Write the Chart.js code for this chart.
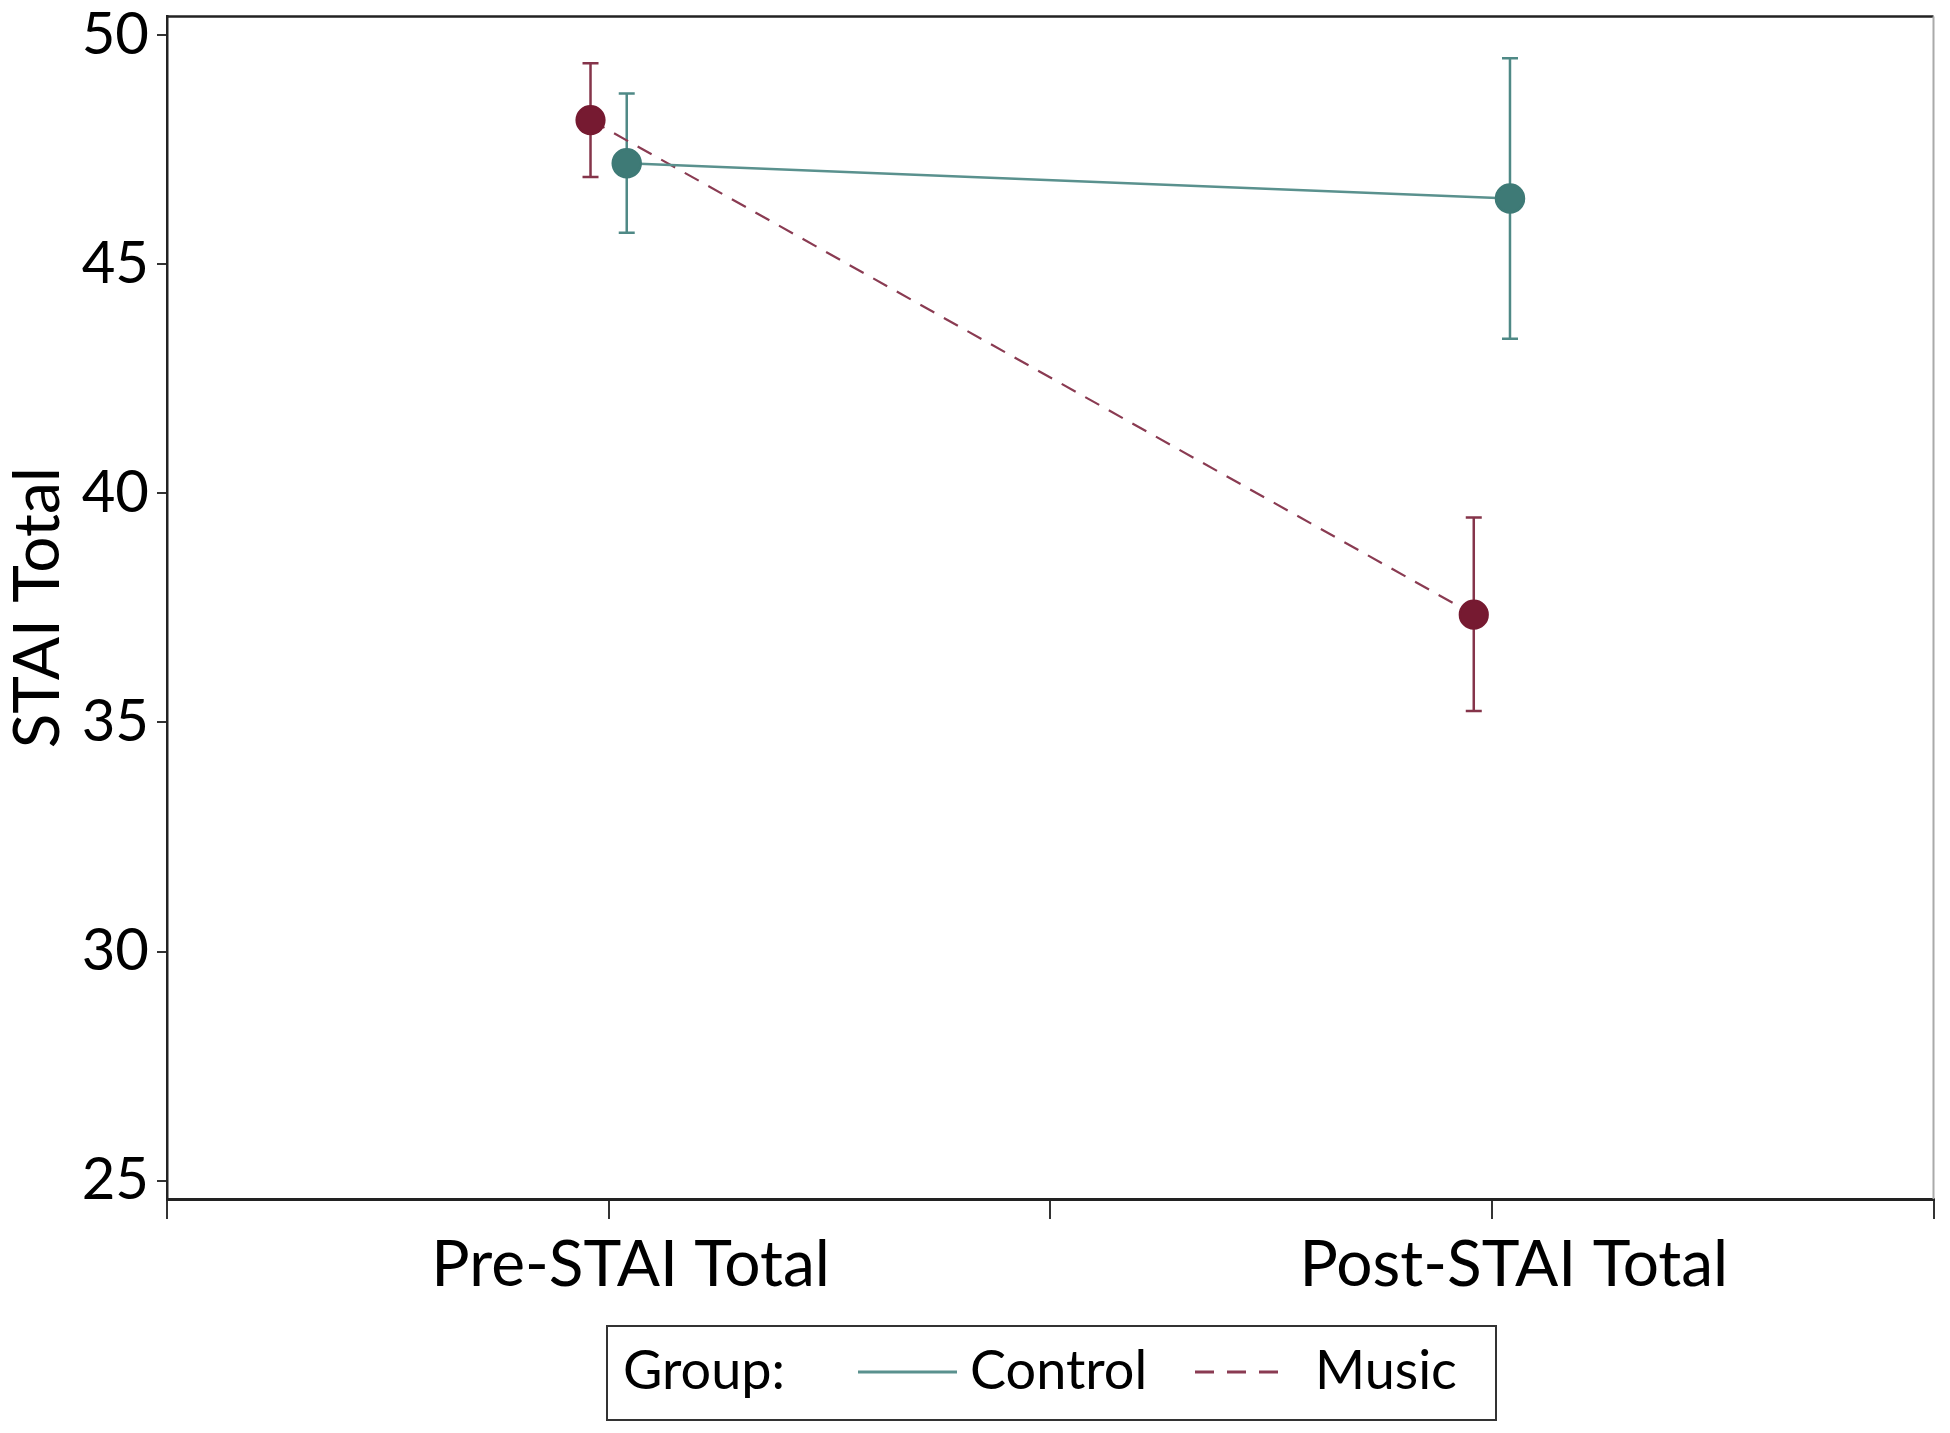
<!DOCTYPE html>
<html>
<head>
<meta charset="utf-8">
<script src="https://cdn.jsdelivr.net/npm/chart.js@4/dist/chart.umd.min.js"></script>
<style>
html,body{margin:0;padding:0;background:#fff;}
#wrap{width:1950px;height:1433px;position:relative;}
</style>
</head>
<body>
<div id="wrap"><canvas id="c"></canvas></div>
<script>
// ---- data ----
const categories = ['Pre-STAI Total', 'Post-STAI Total'];
const groups = ['Control', 'Music'];
const controlMean  = [47.20, 46.43];
const controlLower = [45.68, 43.37];
const controlUpper = [48.72, 49.49];
const musicMean    = [48.14, 37.35];
const musicLower   = [46.90, 35.25];
const musicUpper   = [49.38, 39.47];
const yTickValues  = [25, 30, 35, 40, 45, 50];
const xTickValues  = [0, 1, 2, 3, 4];

const FONT = 'Lato, "Open Sans", sans-serif';
const catPos = i => 2 * i + 1;          // category centre on linear x axis
const dodge = 0.041;

function pts(means, off) {
  return means.map((v, i) => ({ x: catPos(i) + off, y: v }));
}

const errorBars = {
  id: 'errorBars',
  beforeDatasetsDraw(chart) {
    const ctx = chart.ctx, ys = chart.scales.y;
    chart.data.datasets.forEach((ds, di) => {
      const meta = chart.getDatasetMeta(di);
      ctx.save();
      ctx.strokeStyle = ds.errColor;
      ctx.lineWidth = 2.5;
      meta.data.forEach((el, j) => {
        const x = el.x;
        const t = ys.getPixelForValue(ds.errHigh[j]);
        const b = ys.getPixelForValue(ds.errLow[j]);
        ctx.beginPath();
        ctx.moveTo(x, t); ctx.lineTo(x, b);
        ctx.moveTo(x - 8, t); ctx.lineTo(x + 8, t);
        ctx.moveTo(x - 8, b); ctx.lineTo(x + 8, b);
        ctx.stroke();
      });
      ctx.restore();
    });
  }
};

const frameAndLegend = {
  id: 'frameAndLegend',
  afterDraw(chart) {
    const ctx = chart.ctx, a = chart.chartArea;
    ctx.save();
    // top and right frame
    ctx.strokeStyle = '#222';
    ctx.lineWidth = 2.5;
    ctx.beginPath(); ctx.moveTo(a.left, a.top); ctx.lineTo(a.right, a.top); ctx.stroke();
    ctx.strokeStyle = '#aaa';
    ctx.lineWidth = 2;
    ctx.beginPath(); ctx.moveTo(a.right, a.top); ctx.lineTo(a.right, a.bottom); ctx.stroke();

    // legend box
    const bx = 607, by = 1326, bw = 889, bh = 94;
    ctx.strokeStyle = '#333';
    ctx.lineWidth = 2;
    ctx.strokeRect(bx, by, bw, bh);
    ctx.fillStyle = '#000';
    ctx.font = '54px ' + FONT;
    ctx.textBaseline = 'middle';
    ctx.textAlign = 'left';
    const cy = 1372;
    ctx.fillText('Group:', 623, cy);
    const ds = chart.data.datasets;
    const items = [
      { d: ds[0], x0: 858, x1: 957, tx: 970 },
      { d: ds[1], x0: 1195, x1: 1280, tx: 1315 }
    ];
    items.forEach(it => {
      ctx.strokeStyle = it.d.borderColor;
      ctx.lineWidth = 3;
      ctx.setLineDash(it.d.borderDash && it.d.borderDash.length ? [19, 13] : []);
      ctx.beginPath(); ctx.moveTo(it.x0, cy); ctx.lineTo(it.x1, cy); ctx.stroke();
      ctx.setLineDash([]);
      ctx.fillStyle = '#000';
      ctx.fillText(it.d.label, it.tx, cy);
    });
    ctx.restore();
  }
};

new Chart(document.getElementById('c'), {
  type: 'line',
  data: {
    datasets: [
      {
        label: groups[0],
        data: pts(controlMean, dodge),
        errLow: controlLower, errHigh: controlUpper,
        errColor: '#4f8986',
        borderColor: '#5a918e',
        borderWidth: 2.5,
        pointBackgroundColor: '#3e7a76',
        pointBorderColor: '#3e7a76',
        pointRadius: 14,
        pointHoverRadius: 14,
        tension: 0
      },
      {
        label: groups[1],
        data: pts(musicMean, -dodge),
        errLow: musicLower, errHigh: musicUpper,
        errColor: '#85344a',
        borderColor: '#8a3b52',
        borderWidth: 2.2,
        borderDash: [16, 11],
        pointBackgroundColor: '#761a31',
        pointBorderColor: '#761a31',
        pointRadius: 14,
        pointHoverRadius: 14,
        tension: 0
      }
    ]
  },
  options: {
    responsive: true,
    maintainAspectRatio: false,
    animation: false,
    events: [],
    layout: { padding: { left: 0, right: 6, top: 9, bottom: 0 } },
    plugins: { legend: { display: false }, tooltip: { enabled: false } },
    scales: {
      x: {
        type: 'linear',
        min: 0, max: 4,
        afterBuildTicks: s => { s.ticks = xTickValues.map(v => ({ value: v })); },
        afterFit: s => { s.height = 234; s.paddingLeft = 0; s.paddingRight = 0; },
        grid: { drawOnChartArea: false, drawTicks: true, tickLength: 20, color: '#333', lineWidth: 2 },
        border: { color: '#222', width: 3 },
        ticks: {
          autoSkip: false,
          maxRotation: 0,
          labelOffset: 22,
          padding: 8,
          color: '#000',
          font: { family: FONT, size: 64 },
          callback: v => {
            const i = categories.findIndex((c, k) => catPos(k) === v);
            return i >= 0 ? categories[i] : '';
          }
        }
      },
      y: {
        min: 24.6, max: 50.4,
        afterBuildTicks: s => { s.ticks = yTickValues.map(v => ({ value: v })); },
        afterFit: s => { s.width = 167; s.paddingTop = 0; s.paddingBottom = 0; },
        grid: { drawOnChartArea: false, drawTicks: true, tickLength: 10, color: '#333', lineWidth: 2 },
        border: { color: '#222', width: 2.5 },
        ticks: {
          padding: 8,
          color: '#000',
          font: { family: FONT, size: 58 }
        },
        title: {
          display: true,
          text: 'STAI Total',
          color: '#000',
          font: { family: FONT, size: 64 },
          padding: { top: 0, bottom: 0 }
        }
      }
    }
  },
  plugins: [errorBars, frameAndLegend]
});
</script>
</body>
</html>
